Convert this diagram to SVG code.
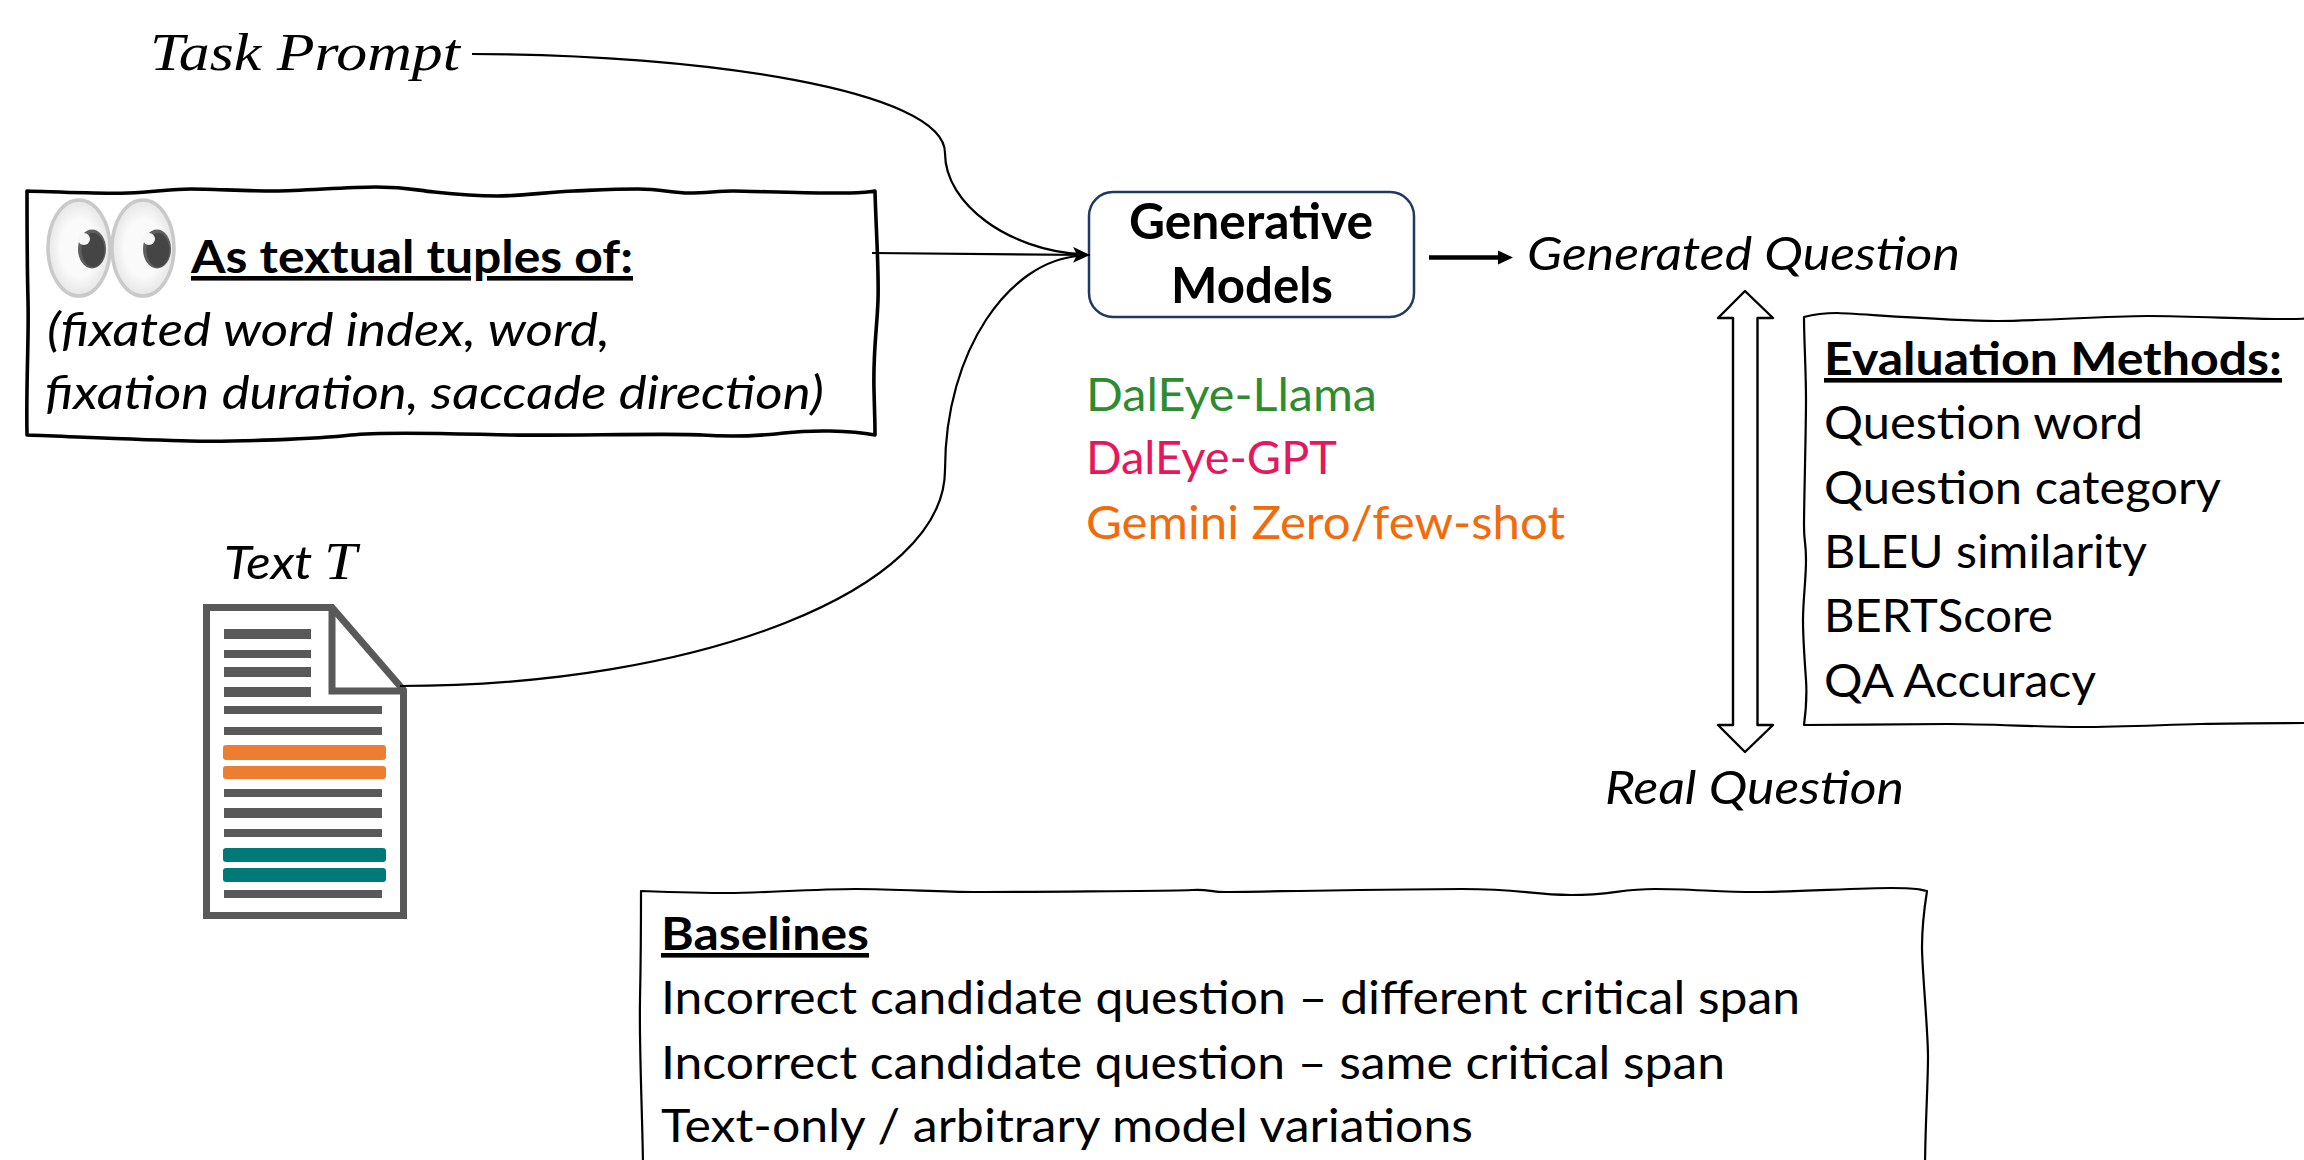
<svg xmlns="http://www.w3.org/2000/svg" width="2304" height="1160" viewBox="0 0 2304 1160">
<style>
text{font-family:"Lato","Carlito","Liberation Sans",sans-serif;font-size:46px;fill:#000}
.i{font-style:italic}
.b{font-weight:700}
.u{text-decoration:underline}
.m{font-family:"Liberation Serif",serif;font-style:italic;font-size:53px}
.w{fill:#fff;stroke:#000;stroke-linejoin:round}
.c{fill:none;stroke:#000;stroke-width:2.2}
.g{fill:#595959}
.o{fill:#ed7d31}
.t{fill:#007a78}
.eye{fill:url(#eyeG);stroke:#c9c9c9;stroke-width:3.5}
</style>
<defs>
<marker id="ah" markerUnits="userSpaceOnUse" markerWidth="18" markerHeight="18" refX="17" refY="8" orient="auto"><path d="M0 0L17 8L0 16L4 8Z" fill="#000"/></marker>
<radialGradient id="eyeG"><stop offset="0.6" stop-color="#fafafa"/><stop offset="1" stop-color="#e6e6e6"/></radialGradient>
</defs>
<rect width="2304" height="1160" fill="#fff"/>
<g id="task-prompt"><text class="m" x="150" y="70" textLength="310" lengthAdjust="spacingAndGlyphs">Task Prompt</text></g>
<g id="gaze-box">
<path class="w" stroke-width="3.6" d="M27 191C60 192 100 194 128 193S170 189 191 189S245 191 274 191S345 187 376 187S415 190 434 192S475 196 497 196S550 192 574 191S615 189 638 189S672 193 689 193S718 191 733 191S800 193 829 193S860 193 875 191C876 230 879 270 878 300S873 350 874 390S875 420 875 435C850 430 810 430 784 433S730 437 702 435S560 436 510 435S385 431 351 435S235 442 190 441S80 437 27 435C26 380 29 340 28 300S27 230 27 191Z"/>
<ellipse class="eye" cx="79" cy="248" rx="31" ry="48"/>
<ellipse class="eye" cx="143" cy="248" rx="31" ry="48"/>
<ellipse cx="92" cy="249" rx="14" ry="19.5" fill="#5f5f5f"/>
<ellipse cx="93" cy="250" rx="11.5" ry="17" fill="#454545"/>
<circle cx="84" cy="239" r="6" fill="#f6f6f6"/>
<ellipse cx="157" cy="249" rx="14" ry="19.5" fill="#5f5f5f"/>
<ellipse cx="158" cy="250" rx="11.5" ry="17" fill="#454545"/>
<circle cx="149" cy="239" r="6" fill="#f6f6f6"/>
<text class="b u" x="191" y="273" textLength="442" lengthAdjust="spacingAndGlyphs">As textual tuples of:</text>
<text class="i" x="47" y="346" textLength="563" lengthAdjust="spacingAndGlyphs">(fixated word index, word,</text>
<text class="i" x="45" y="409" textLength="779" lengthAdjust="spacingAndGlyphs">fixation duration, saccade direction)</text>
</g>
<g id="document">
<path d="M206.500 607.500H332L403.500 690V915.500H206.500Z" fill="#fff" stroke="#595959" stroke-width="7"/>
<path d="M332 607V691H405" fill="none" stroke="#595959" stroke-width="7"/>
<rect class="g" x="224" y="629" width="87" height="10"/>
<rect class="g" x="224" y="650" width="87" height="8"/>
<rect class="g" x="224" y="667" width="87" height="10"/>
<rect class="g" x="224" y="687" width="87" height="10"/>
<rect class="g" x="224" y="706" width="158" height="8"/>
<rect class="g" x="224" y="727" width="158" height="8"/>
<rect class="o" x="223" y="745" width="163" height="15" rx="3"/>
<rect class="o" x="223" y="766" width="163" height="13" rx="3"/>
<rect class="g" x="224" y="789" width="158" height="8"/>
<rect class="g" x="224" y="808" width="158" height="10"/>
<rect class="g" x="224" y="829" width="158" height="8"/>
<rect class="t" x="223" y="848" width="163" height="14" rx="3"/>
<rect class="t" x="223" y="868" width="163" height="14" rx="3"/>
<rect class="g" x="224" y="890" width="158" height="8"/>
<text class="i" x="224" y="579" textLength="133" lengthAdjust="spacingAndGlyphs">Text <tspan class="m">T</tspan></text>
</g>
<g id="generative-models">
<rect x="1089" y="192" width="325" height="125" rx="24" fill="#fff" stroke="#1f3864" stroke-width="2.5"/>
<text class="b" x="1129" y="239" style="font-size:50px" textLength="244" lengthAdjust="spacingAndGlyphs">Generative</text>
<text class="b" x="1171" y="303" style="font-size:50px" textLength="162" lengthAdjust="spacingAndGlyphs">Models</text>
</g>
<g id="model-list">
<text x="1086" y="411" style="fill:#2e8b2e" textLength="291" lengthAdjust="spacingAndGlyphs">DalEye-Llama</text>
<text x="1086" y="474" style="fill:#e6175c" textLength="251" lengthAdjust="spacingAndGlyphs">DalEye-GPT</text>
<text x="1086" y="539" style="fill:#f26a0a" textLength="479" lengthAdjust="spacingAndGlyphs">Gemini Zero/few-shot</text>
</g>
<g id="generated-question"><text class="i" x="1527" y="270" textLength="433" lengthAdjust="spacingAndGlyphs">Generated Question</text></g>
<g id="real-question"><text class="i" x="1605" y="804" textLength="299" lengthAdjust="spacingAndGlyphs">Real Question</text></g>
<g id="evaluation-methods">
<path class="w" stroke-width="2.2" d="M1804 317C1815 314 1825 313 1837 313S1950 321 1997 321S2100 316 2148 316S2240 319 2281 319S2295 318 2310 318V723C2280 723 2240 723 2200 724S2120 727 2081 727S1990 724 1947 724S1850 725 1804 725C1806 710 1807 695 1806 680S1803 640 1803 620S1806 580 1806 560S1804 545 1804 525S1806 430 1806 400S1804 340 1804 317Z"/>
<text class="b u" x="1824" y="375" textLength="458" lengthAdjust="spacingAndGlyphs">Evaluation Methods:</text>
<text x="1824" y="439" textLength="319" lengthAdjust="spacingAndGlyphs">Question word</text>
<text x="1824" y="504" textLength="397" lengthAdjust="spacingAndGlyphs">Question category</text>
<text x="1824" y="568" textLength="323" lengthAdjust="spacingAndGlyphs">BLEU similarity</text>
<text x="1824" y="632" textLength="229" lengthAdjust="spacingAndGlyphs">BERTScore</text>
<text x="1824" y="697" textLength="272" lengthAdjust="spacingAndGlyphs">QA Accuracy</text>
</g>
<g id="baselines">
<path class="w" stroke-width="2.2" d="M641 891C670 892 700 893 729 893S815 889 856 889S940 892 974 892S1175 891 1192 890S1210 892 1226 892S1400 889 1462 889S1530 895 1571 895S1620 889 1655 889S1720 892 1756 892S1860 888 1891 888S1915 889 1927 891C1924 910 1922 925 1922 947S1928 1030 1928 1057S1925 1130 1925 1170H643C643 1130 639 1050 640 1000S641 930 641 891Z"/>
<text class="b u" x="661" y="950" textLength="208" lengthAdjust="spacingAndGlyphs">Baselines</text>
<text x="661" y="1014" textLength="1139" lengthAdjust="spacingAndGlyphs">Incorrect candidate question – different critical span</text>
<text x="661" y="1079" textLength="1064" lengthAdjust="spacingAndGlyphs">Incorrect candidate question – same critical span</text>
<text x="661" y="1142" textLength="812" lengthAdjust="spacingAndGlyphs">Text-only / arbitrary model variations</text>
</g>
<g id="connectors">
<path class="c" d="M472 54C700 54 945 90 945 153C945 205 1010 250 1080 254"/>
<path class="c" d="M400 686C700 686 945 590 945 470C945 350 1010 260 1080 256"/>
<path class="c" d="M872 253L1090 255" marker-end="url(#ah)"/>
<path d="M1429 257.500H1500" stroke="#000" stroke-width="4.5" fill="none"/>
<path d="M1498 250.500L1513 257.500L1498 264.500Z" fill="#000"/>
<path id="double-arrow" class="w" stroke-width="2.4" d="M1745 291L1773 318H1757.5V725H1773L1745 752L1718 725H1733V318H1718Z"/>
</g>
</svg>
